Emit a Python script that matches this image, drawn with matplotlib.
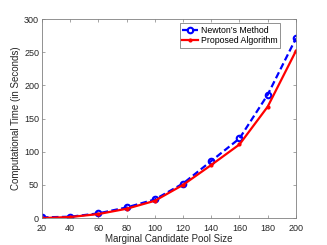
import matplotlib
matplotlib.use("Agg")
import matplotlib.pyplot as plt

pool_size = [20, 40, 60, 80, 100, 120, 140, 160, 180, 200]
newton = [1, 2, 7, 16, 28, 52, 86, 120, 186, 271]
proposed = [0, 1.5, 6, 14, 26, 50, 80, 111, 168, 252]
x_ticks = [20, 40, 60, 80, 100, 120, 140, 160, 180, 200]
y_ticks = [0, 50, 100, 150, 200, 250, 300]

plt.rcParams['font.family'] = ['Liberation Sans', 'DejaVu Sans']

fig = plt.figure(figsize=(3.27, 2.45), dpi=100)
ax = fig.add_axes([0.128, 0.110, 0.777, 0.812])

ax.plot(pool_size, newton, color='#0000ff', linestyle='--', linewidth=1.6,
        marker='o', markersize=4, markerfacecolor='none', markeredgewidth=1.5,
        dashes=(3, 1.5), label="Newton’s Method")
ax.plot(pool_size, proposed, color='#ff0000', linestyle='-', linewidth=1.6,
        marker='.', markersize=4, label='Proposed Algorithm')

ax.set_xlim(20, 200)
ax.set_ylim(0, 300)
ax.set_xticks(x_ticks)
ax.set_yticks(y_ticks)

gray = '#262626'
for sp in ax.spines.values():
    sp.set_color('#808080')
    sp.set_linewidth(0.6)
ax.tick_params(direction='in', length=2.5, width=0.5, color='#808080',
               labelsize=6.5, labelcolor=gray, top=True, right=True)
ax.tick_params(axis='x', pad=4)
ax.tick_params(axis='y', pad=2)

ax.set_xlabel('Marginal Candidate Pool Size', fontsize=7, color=gray, labelpad=1)
ax.set_ylabel('Computational Time (in Seconds)', fontsize=7, color=gray, labelpad=2)

leg = ax.legend(loc='upper right', fontsize=6.3, frameon=True, fancybox=False,
                edgecolor='#404040', handlelength=1.8, borderpad=0.3,
                labelspacing=0.15, handletextpad=0.3, borderaxespad=0.0,
                bbox_to_anchor=(0.937, 0.98))
leg.get_frame().set_linewidth(0.5)

fig.savefig('out.png', dpi=100)
